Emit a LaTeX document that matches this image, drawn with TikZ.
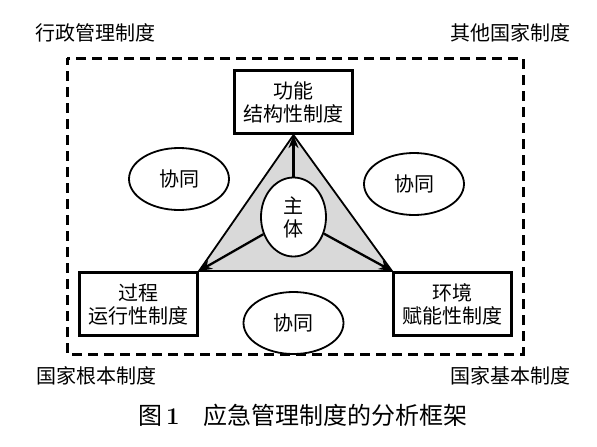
\documentclass[tikz,border=0pt]{standalone}
\usepackage{fontspec}
\newfontfamily\cjk{Noto Sans CJK SC}
\usetikzlibrary{arrows.meta,shapes.geometric}
\tikzset{
  every node/.style={font=\cjk\fontsize{20}{23}\selectfont},
  sysbox/.style={draw, line width=3.2pt, minimum width=118pt, minimum height=63pt, inner sep=0pt, align=center},
  coop/.style={draw, ellipse, line width=1.8pt, minimum width=100pt, minimum height=62pt, inner sep=0pt},
  subj/.style={draw, ellipse, line width=1.8pt, fill=white, minimum width=65pt, minimum height=79pt, inner sep=0pt, align=center},
  flow/.style={line width=2.3pt, -{Stealth[length=13pt,width=10pt]}},
  frame/.style={line width=3pt, dash pattern=on 10pt off 6pt},
  tri/.style={fill=black!15, draw=black, line width=1.8pt, line join=miter}
}
\begin{document}
\begin{tikzpicture}[x=1pt,y=-1pt]
\useasboundingbox (0,0) rectangle (597,447);
\draw[frame, dash phase=3pt] (67,58) rectangle (523,354);
\node[anchor=west] (l1) at (32,33) {行政管理制度};
\node[anchor=east] (l2) at (574,33) {其他国家制度};
\node[anchor=west] (l3) at (33,376) {国家根本制度};
\node[anchor=east] (l4) at (574,376) {国家基本制度};
\node[sysbox] (top) at (293.5,102) {功能\\结构性制度};
\node[sysbox] (left) at (138.5,304) {过程\\运行性制度};
\node[sysbox] (right) at (452.5,304) {环境\\赋能性制度};
\coordinate (A) at (top.south);
\coordinate (B) at (left.north east);
\coordinate (C) at (right.north west);
\path[tri] (A) -- (B) -- (C) -- cycle;
\node[subj] (sub) at (293.5,217) {主\\体};
\draw[flow] (sub) -- (A);
\draw[flow] (sub) -- (B);
\draw[flow] (sub) -- (C);
\node[coop] (c1) at (179,179) {协同};
\node[coop] (c2) at (414,184) {协同};
\node[coop] (c3) at (293.5,323) {协同};
\node[anchor=west, inner sep=0pt] (cap) at (138,415) {\fontsize{24}{26}\selectfont 图\,{\rmfamily\bfseries 1}\hspace{24pt}应急管理制度的分析框架};
\end{tikzpicture}
\end{document}
